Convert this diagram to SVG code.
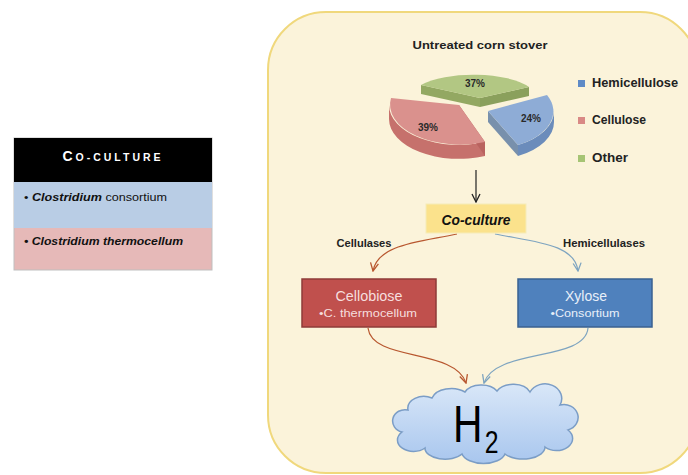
<svg xmlns="http://www.w3.org/2000/svg" width="688" height="475" viewBox="0 0 688 475">
<style>
text{font-family:"Liberation Sans",Arial,sans-serif;}
.lbl{font-size:11.5px;font-weight:bold;fill:#222;}
.pct{font-size:10px;font-weight:bold;fill:#2a2a2a;}
.leg{font-size:12px;font-weight:bold;fill:#222;}
.conn{fill:none;stroke-width:1.2;}
</style>
<defs>
<marker id="mk" viewBox="0 0 10 10" refX="9" refY="5" markerWidth="10" markerHeight="10" orient="auto" markerUnits="userSpaceOnUse"><path d="M1,1 L9,5 L1,9" fill="none" stroke="#222" stroke-width="1.3"/></marker>
<marker id="mr" viewBox="0 0 10 10" refX="9" refY="5" markerWidth="10" markerHeight="10" orient="auto" markerUnits="userSpaceOnUse"><path d="M1,1 L9,5 L1,9" fill="none" stroke="#b8572f" stroke-width="1.3"/></marker>
<marker id="mb" viewBox="0 0 10 10" refX="9" refY="5" markerWidth="10" markerHeight="10" orient="auto" markerUnits="userSpaceOnUse"><path d="M1,1 L9,5 L1,9" fill="none" stroke="#7ea4c0" stroke-width="1.3"/></marker>
<linearGradient id="cloudg" x1="0" y1="0" x2="0" y2="1"><stop offset="0" stop-color="#d9e7f8"/><stop offset="1" stop-color="#a8c6ee"/></linearGradient>
</defs>

<g id="legend-box">
<rect x="14" y="138" width="198" height="132" fill="#e6b9b8" stroke="#bfbfbf" stroke-width="1"/>
<rect x="14" y="138" width="198" height="44" fill="#000"/>
<rect x="14" y="182" width="198" height="46" fill="#b9cde5"/>
<text x="113" y="161" text-anchor="middle" fill="#fff" font-weight="bold" letter-spacing="3"><tspan font-size="14">C</tspan><tspan font-size="10.5">O-CULTURE</tspan></text>
<text x="24" y="201" font-size="11" fill="#111" textLength="143" lengthAdjust="spacingAndGlyphs">• <tspan font-style="italic" font-weight="bold">Clostridium</tspan> consortium</text>
<text x="24" y="245" font-size="11" fill="#111" font-style="italic" font-weight="bold" textLength="159" lengthAdjust="spacingAndGlyphs">• Clostridium thermocellum</text>
</g>

<g id="panel">
<rect x="268" y="12" width="430" height="461" rx="58" ry="58" fill="#fbf3da" stroke="#f0d87c" stroke-width="2"/>
</g>

<g id="pie-chart">
<text class="lbl" x="480" y="49" text-anchor="middle" textLength="135" lengthAdjust="spacingAndGlyphs">Untreated corn stover</text>
<path d="M421,85 L480,98 L480,107 L421,94 Z" fill="#93a862"/>
<path d="M480,98 L529,87 L529,96 L480,107 Z" fill="#8aa05c"/>
<path d="M480,98 L421,85 A62 22 0 0 1 529,87 Z" fill="#b2c783"/>
<path d="M389,105 A70 40 0 0 0 485,142 L485,156 A70 40 0 0 1 389,119 Z" fill="#c6716c"/>
<path d="M459,105 L485,142 L485,156 L459,119 Z" fill="#b9635f"/>
<path d="M459,105 L391,98 A70 40 0 0 0 485,142 Z" fill="#da918d"/>
<path d="M554,111 A66 38 0 0 1 518,145 L518,156 A66 38 0 0 0 554,122 Z" fill="#6b8cbb"/>
<path d="M488,111 L518,145 L518,156 L488,122 Z" fill="#7890ac"/>
<path d="M488,111 L547,95 A66 38 0 0 1 518,145 Z" fill="#8eacd6"/>
<text class="pct" x="475" y="87" text-anchor="middle">37%</text>
<text class="pct" x="428" y="131" text-anchor="middle">39%</text>
<text class="pct" x="531" y="122" text-anchor="middle">24%</text>
<rect x="578" y="80" width="7" height="7" fill="#5e8ac6"/>
<text class="leg" x="592" y="87" textLength="86" lengthAdjust="spacingAndGlyphs">Hemicellulose</text>
<rect x="578" y="117" width="7" height="7" fill="#d98985"/>
<text class="leg" x="592" y="124" textLength="54" lengthAdjust="spacingAndGlyphs">Cellulose</text>
<rect x="578" y="155" width="7" height="7" fill="#a6c474"/>
<text class="leg" x="592" y="162" textLength="36" lengthAdjust="spacingAndGlyphs">Other</text>
</g>

<g id="connectors">
<path class="conn" d="M476,170 L476,202" stroke="#222" marker-end="url(#mk)"/>
<path class="conn" d="M457,234 C420,242 378,244 373,271" stroke="#b8572f" marker-end="url(#mr)"/>
<path class="conn" d="M495,234 C535,242 575,244 578,271" stroke="#7ea4c0" marker-end="url(#mb)"/>
<path class="conn" d="M368,328 C372,362 455,348 466,383" stroke="#b8572f" marker-end="url(#mr)"/>
<path class="conn" d="M588,328 C585,362 495,348 484,383" stroke="#7ea4c0" marker-end="url(#mb)"/>
</g>
<text class="lbl" x="364" y="247" text-anchor="middle" textLength="55" lengthAdjust="spacingAndGlyphs">Cellulases</text>
<text class="lbl" x="604" y="247" text-anchor="middle" textLength="82" lengthAdjust="spacingAndGlyphs">Hemicellulases</text>

<g id="co-culture">
<rect x="426" y="204" width="100" height="29" fill="#fbe28c" stroke="#f6ecb8" stroke-width="1"/>
<text x="476" y="225" text-anchor="middle" font-size="14" font-weight="bold" font-style="italic" fill="#111" textLength="69" lengthAdjust="spacingAndGlyphs">Co-culture</text>
</g>

<g id="cellobiose">
<rect x="302" y="279" width="134" height="48" fill="#c0504d" stroke="#8e3b38" stroke-width="1.5"/>
<text x="369" y="301" text-anchor="middle" font-size="15" fill="#f6dede" textLength="67" lengthAdjust="spacingAndGlyphs">Cellobiose</text>
<text x="368" y="317" text-anchor="middle" font-size="11" fill="#f6dede" textLength="98" lengthAdjust="spacingAndGlyphs">•C. thermocellum</text>
</g>

<g id="xylose">
<rect x="518" y="279" width="134" height="48" fill="#4f81bd" stroke="#3a6191" stroke-width="1.5"/>
<text x="586" y="301" text-anchor="middle" font-size="15" fill="#e8eff9" textLength="42" lengthAdjust="spacingAndGlyphs">Xylose</text>
<text x="585" y="317" text-anchor="middle" font-size="11" fill="#e8eff9" textLength="69" lengthAdjust="spacingAndGlyphs">•Consortium</text>
</g>

<g id="h2">
<path d="M402,432 A12 11 0 0 1 408,410 A16 12 0 0 1 432,398 A20 13 0 0 1 465,392 A18 12 0 0 1 497,391 A18 12 0 0 1 530,392 A16 14 0 0 1 560,405 A13 12 0 0 1 568,430 A16 12 0 0 1 545,447 A22 12 0 0 1 505,454 A22 12 0 0 1 462,454 A20 11 0 0 1 425,448 A14 10 0 0 1 402,432 Z" fill="url(#cloudg)" stroke="#7b9dc6" stroke-width="1.5"/>
<text transform="translate(453,442) scale(0.8,1)" font-size="51" fill="#000">H<tspan font-size="31" dx="3" dy="11">2</tspan></text>
</g>
</svg>
